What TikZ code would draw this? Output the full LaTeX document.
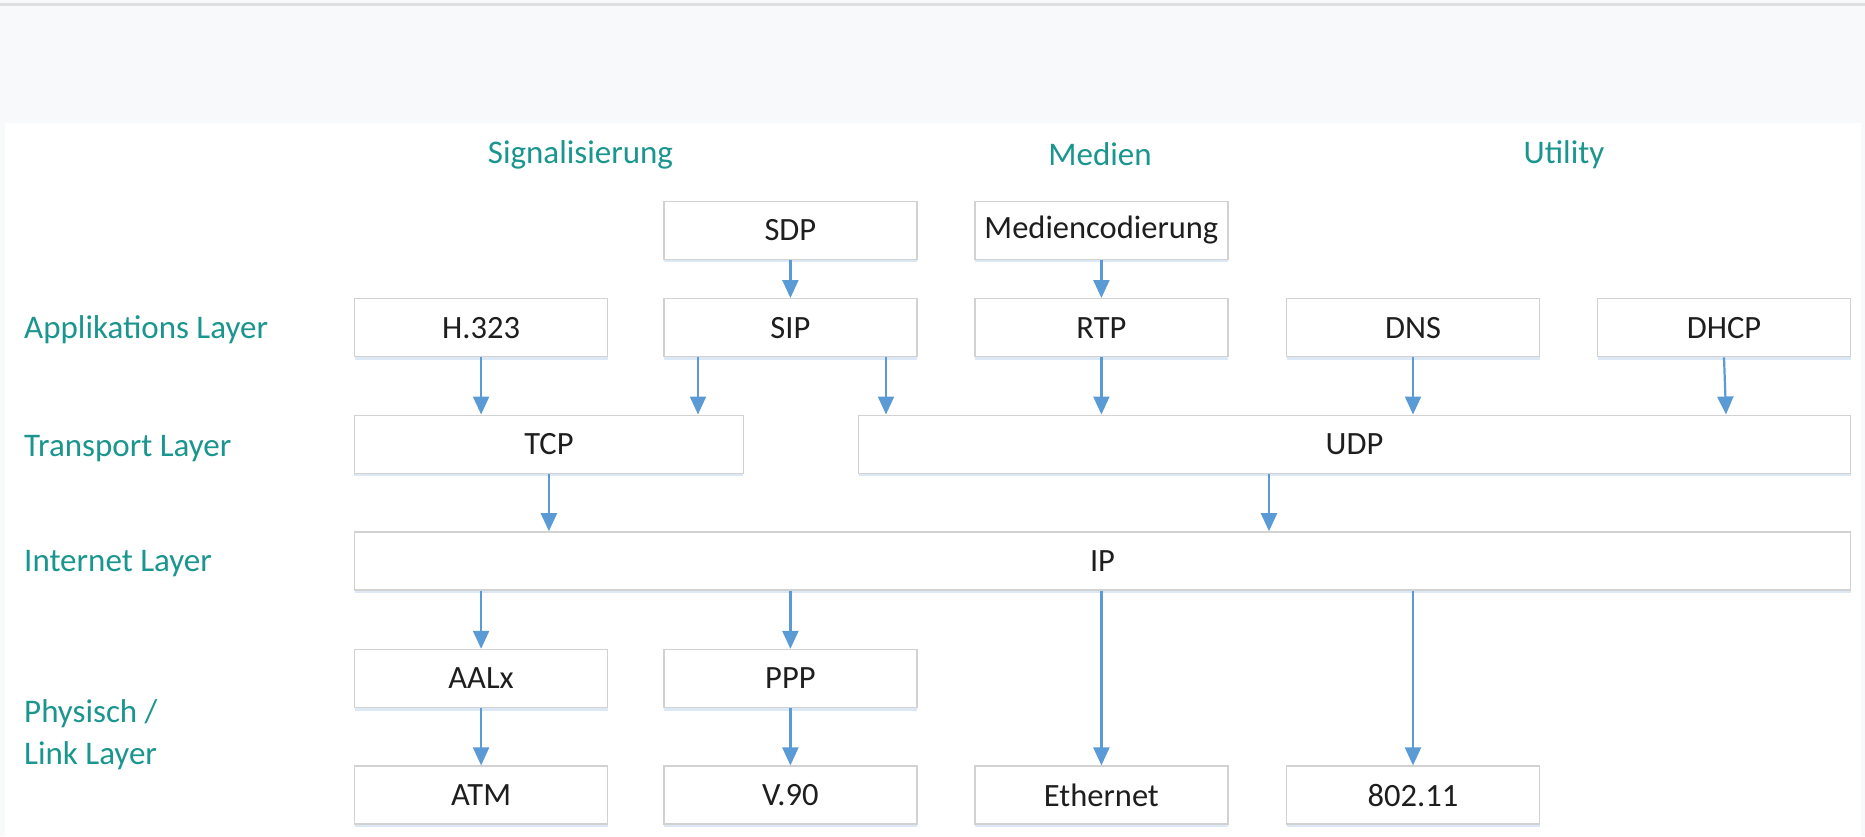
\documentclass[tikz,border=0pt]{standalone}
\usepackage{fontspec}
\setmainfont{Carlito}
\usetikzlibrary{arrows.meta,shadows}
\definecolor{teal1}{HTML}{1A968F}
\definecolor{arrowblue}{HTML}{5B9BD5}
\definecolor{boxline}{HTML}{D2D2D2}
\definecolor{txt}{HTML}{1E1E1E}
\definecolor{bggray}{HTML}{F8F9FA}
\definecolor{shadowblue}{HTML}{DCE8F5}
\tikzset{
  layerbox/.style={draw=boxline, line width=1.4pt, fill=white, minimum height=58pt,
    inner sep=0pt, font=\fontsize{32.5}{38}\selectfont, text=txt,
    drop shadow={shadow xshift=0pt, shadow yshift=-3pt, fill=shadowblue, opacity=1}},
  lab/.style={anchor=west, inner sep=0pt, text=teal1, font=\fontsize{33}{41.7}\selectfont, align=left},
  hdr/.style={inner sep=0pt, text=teal1, font=\fontsize{33}{40}\selectfont},
  conn/.style={draw=arrowblue, line width=2.2pt, -{Triangle[length=18pt,width=16pt]}, arrowblue}
}
\begin{document}
\begin{tikzpicture}[x=1pt,y=-1pt]
\useasboundingbox (0,0) rectangle (1865,836);
\fill[bggray] (0,0) rectangle (1865,836);
\fill[white] (4.5,123) rectangle (1861,836);
\fill[gray!25] (0,3) rectangle (1865,5.5);

% headers
\node[hdr] (hsig) at (580.5,154.5) {Signalisierung};
\node[hdr] (hmed) at (1100,154.5) {Medien};
\node[hdr] (hut) at (1564,154.5) {Utility};

% row labels
\node[lab] (lapp) at (24,329.5) {Applikations Layer};
\node[lab] (ltra) at (24,448.3) {Transport Layer};
\node[lab] (lint) at (24,563.5) {Internet Layer};
\node[lab] (lphy) at (24,734.5) {Physisch /\\Link Layer};

% boxes
\node[layerbox, minimum width=253pt] (sdp) at (790.4,230.2) {SDP};
\node[layerbox, minimum width=253pt] (med) at (1101.4,230.2) {Mediencodierung};
\node[layerbox, minimum width=253pt] (h323) at (481.1,327.7) {H.323};
\node[layerbox, minimum width=253pt] (sip) at (790.4,327.7) {SIP};
\node[layerbox, minimum width=253pt] (rtp) at (1101.4,327.7) {RTP};
\node[layerbox, minimum width=253pt] (dns) at (1413,327.7) {DNS};
\node[layerbox, minimum width=253pt] (dhcp) at (1724,327.7) {DHCP};
\node[layerbox, minimum width=389pt] (tcp) at (548.9,444.2) {TCP};
\node[layerbox, minimum width=992pt] (udp) at (1354.5,444.2) {UDP};
\node[layerbox, minimum width=1496pt] (ip) at (1102.5,560.9) {IP};
\node[layerbox, minimum width=253pt] (aal) at (481.1,678.5) {AALx};
\node[layerbox, minimum width=253pt] (ppp) at (790.4,678.5) {PPP};
\node[layerbox, minimum width=253pt] (atm) at (481.1,795.1) {ATM};
\node[layerbox, minimum width=253pt] (v90) at (790.4,795.1) {V.90};
\node[layerbox, minimum width=253pt] (eth) at (1101.4,795.1) {Ethernet};
\node[layerbox, minimum width=253pt] (w80211) at (1413,795.1) {802.11};

% connectors
\draw[conn] (sdp.south) -- (sip.north);
\draw[conn] (med.south) -- (rtp.north);
\draw[conn] (h323.south) -- (h323.south |- tcp.north);
\draw[conn] (sip.south -| 698,0) -- (tcp.north -| 698,0);
\draw[conn] (sip.south -| 886,0) -- (udp.north -| 886,0);
\draw[conn] (rtp.south) -- (rtp.south |- udp.north);
\draw[conn] (dns.south) -- (dns.south |- udp.north);
\draw[conn] (dhcp.south) -- ([xshift=2pt]dhcp.south |- udp.north);
\draw[conn] (tcp.south) -- (tcp.south |- ip.north);
\draw[conn] (udp.south -| 1269,0) -- (ip.north -| 1269,0);
\draw[conn] (ip.south -| aal.south) -- (aal.north);
\draw[conn] (ip.south -| ppp.south) -- (ppp.north);
\draw[conn] (ip.south -| eth.south) -- (eth.north);
\draw[conn] (ip.south -| w80211.south) -- (w80211.north);
\draw[conn] (aal.south) -- (atm.north);
\draw[conn] (ppp.south) -- (v90.north);
\end{tikzpicture}
\end{document}
